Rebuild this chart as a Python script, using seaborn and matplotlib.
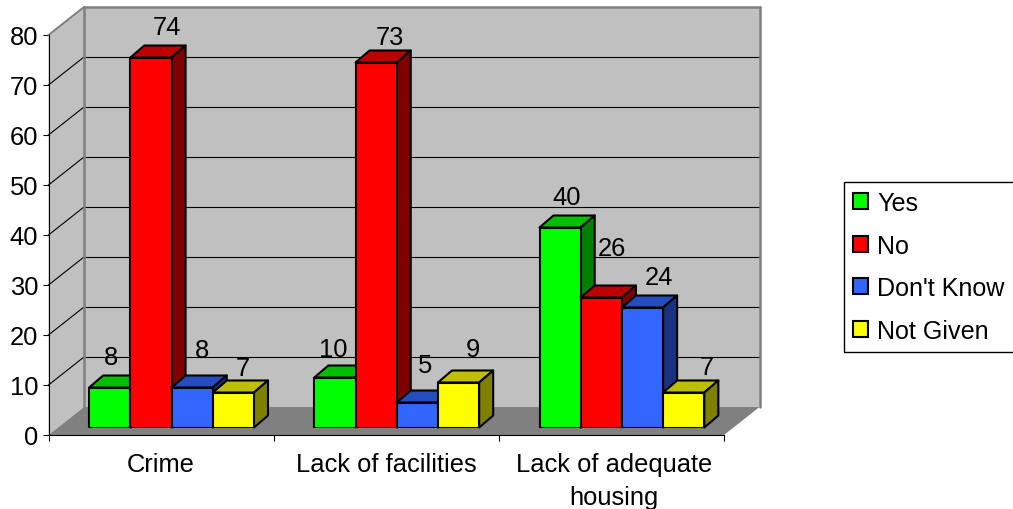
import matplotlib
matplotlib.use("Agg")
import matplotlib.pyplot as plt
from matplotlib.patches import Patch, Polygon
from matplotlib.transforms import IdentityTransform, Affine2D
from matplotlib.colors import to_rgb
import pandas as pd
import seaborn as sns

# Survey responses per issue
issues = ["Crime", "Lack of facilities", "Lack of adequate\nhousing"]
answers = ["Yes", "No", "Don't Know", "Not Given"]
yes_values = [8, 10, 40]
no_values = [74, 73, 26]
dont_know_values = [8, 5, 24]
not_given_values = [7, 9, 7]
answer_colors = ["#00FF00", "#FF0000", "#3366FF", "#FFFF00"]
y_ticks = [0, 10, 20, 30, 40, 50, 60, 70, 80]

# Pixel nudges (dx, dy) of the value labels from each bar's top centre, per answer and issue
label_nudges = {
    "Yes": [(1, 30), (-2, 28), (7, 30)],
    "No": [(16, 30), (14, 25), (11, 49)],
    "Don't Know": [(10, 37), (8, 37), (16, 30)],
    "Not Given": [(9, 24), (14, 33), (23, 25)],
}

sns.set_theme(style="white")
plt.rcParams["font.family"] = ["Liberation Sans", "DejaVu Sans"]
FONT = 18.4
W, H = 1013, 510
fig = plt.figure(figsize=(W / 100, H / 100), dpi=100, facecolor="white")


def axes_rect(left, baseline, width, height):
    return [left / W, (H - baseline) / H, width / W, height / H]


# Front plane carries the axes; bars stand a little behind it on the floor
ax_front = fig.add_axes(axes_rect(48.5, 436, 675.5, 400), zorder=1)
ax = fig.add_axes(axes_rect(59, 428.5, 675.5, 400), zorder=2)

records = []
for name, vals in zip(answers, [yes_values, no_values, dont_know_values, not_given_values]):
    for issue, v in zip(issues, vals):
        records.append({"issue": issue, "answer": name, "value": v})
df = pd.DataFrame(records)

sns.barplot(
    data=df, x="issue", y="value", hue="answer", order=issues, hue_order=answers,
    palette=answer_colors, saturation=1, width=0.732, gap=0, errorbar=None,
    edgecolor="black", linewidth=1.5, legend=False, ax=ax,
)
ax.set_xlim(-0.5, 2.5)
ax.set_ylim(0, 80)
ax.axis("off")

ax_front.set_xlim(-0.5, 2.5)
ax_front.set_ylim(0, 80)
ax_front.patch.set_visible(False)
for side in ("top", "right"):
    ax_front.spines[side].set_visible(False)
for side in ("left", "bottom"):
    ax_front.spines[side].set_linewidth(0.8)
    ax_front.spines[side].set_color("black")
ax_front.set_yticks(y_ticks)
ax_front.set_xticks([-0.5, 0.5, 1.5, 2.5])
ax_front.set_xticks([0, 1, 2], minor=True)
ax_front.set_xticklabels([])
ax_front.set_xticklabels(issues, minor=True, linespacing=1.47)
ax_front.tick_params(axis="y", left=True, length=4, width=0.8, labelsize=FONT, pad=3.5, color="black", labelcolor="black")
ax_front.tick_params(axis="x", which="major", bottom=True, length=4.5, width=0.8, color="black")
ax_front.tick_params(axis="x", which="minor", bottom=False, length=0, labelsize=FONT, pad=12.5, labelcolor="black")
# The two-line category label sits slightly right of its slot centre
last_label = ax_front.get_xticklabels(minor=True)[2]
last_label.set_transform(last_label.get_transform() + Affine2D().translate(2.5, 0))

# Room walls and floor
DEPTH = (35.5, 28.0)
to_disp = ax_front.transData.transform


def back(x, y):
    px, py = to_disp((x, y))
    return px + DEPTH[0], py + DEPTH[1]


def add_room(verts, **kw):
    ax_front.add_patch(Polygon(verts, closed=True, transform=IdentityTransform(), clip_on=False, **kw))


def add_line(p, q, **kw):
    ax_front.plot([p[0], q[0]], [p[1], q[1]], transform=IdentityTransform(), clip_on=False, **kw)


WALL, EDGE = "#C0C0C0", "#808080"
add_room([back(-0.5, 0), back(2.5, 0), back(2.5, 80), back(-0.5, 80)], facecolor=WALL, edgecolor="none", zorder=0)
add_room([to_disp((-0.5, 0)), back(-0.5, 0), back(-0.5, 80), to_disp((-0.5, 80))], facecolor=WALL, edgecolor="none", zorder=0)
add_room([to_disp((-0.5, 0)), to_disp((2.5, 0)), back(2.5, 0), back(-0.5, 0)], facecolor=EDGE, edgecolor="none", zorder=0.5)
for t in y_ticks[1:-1]:
    add_line(to_disp((-0.5, t)), back(-0.5, t), color="black", lw=0.8, zorder=0.6)
    add_line(back(-0.5, t), back(2.5, t), color="black", lw=0.8, zorder=0.6)
add_line(back(-0.5, 0), back(-0.5, 80), color=EDGE, lw=1.8, zorder=0.7)
add_line(back(-0.5, 80), back(2.5, 80), color=EDGE, lw=1.8, zorder=0.7)
add_line(back(2.5, 0), back(2.5, 80), color=EDGE, lw=1.8, zorder=0.7)
add_line(to_disp((-0.5, 80)), back(-0.5, 80), color=EDGE, lw=1.4, zorder=0.7)

# Give every bar a lit top and a shaded side, painted left to right
BAR_DEPTH = (14.0, 12.0)
for rect in sorted(ax.patches, key=lambda r: r.get_x()):
    order = 3 + rect.get_x() * 5
    (x0, y0), (x1, y1) = ax.transData.transform(
        [(rect.get_x(), 0), (rect.get_x() + rect.get_width(), rect.get_height())]
    )
    dx, dy = BAR_DEPTH
    base = to_rgb(rect.get_facecolor())
    top = tuple(c * 0.75 for c in base)
    shade = tuple(c * 0.5 for c in base)
    rect.set_zorder(order + 0.02)
    for verts, col in (
        ([(x0, y1), (x1, y1), (x1 + dx, y1 + dy), (x0 + dx, y1 + dy)], top),
        ([(x1, y0), (x1 + dx, y0 + dy), (x1 + dx, y1 + dy), (x1, y1)], shade),
    ):
        ax.add_patch(Polygon(verts, closed=True, transform=IdentityTransform(), facecolor=col,
                             edgecolor="black", linewidth=1.5, joinstyle="round",
                             zorder=order, clip_on=False))

# Value labels
for name, container in zip(answers, ax.containers):
    for rect, nudge in zip(container, label_nudges[name]):
        ax.annotate(
            f"{rect.get_height():.0f}",
            xy=(rect.get_x() + rect.get_width() / 2, rect.get_height()),
            xytext=nudge, textcoords="offset pixels",
            ha="center", va="center", fontsize=FONT, color="black",
            annotation_clip=False, zorder=50,
        )

handles = [Patch(facecolor=c, edgecolor="black", linewidth=1.5) for c in answer_colors]
legend = fig.legend(
    handles, answers, loc="upper left", bbox_to_anchor=(844 / W, 1 - 183 / H), borderaxespad=0,
    fontsize=18.1, frameon=True, fancybox=False, edgecolor="black", framealpha=1,
    handlelength=0.6, handleheight=0.6, handletextpad=0.36, labelspacing=0.74, borderpad=0.36,
)
legend.get_frame().set_linewidth(1.0)
for t in legend.get_texts():
    t.set_color("black")

fig.savefig("out.png", dpi=100, facecolor="white")
